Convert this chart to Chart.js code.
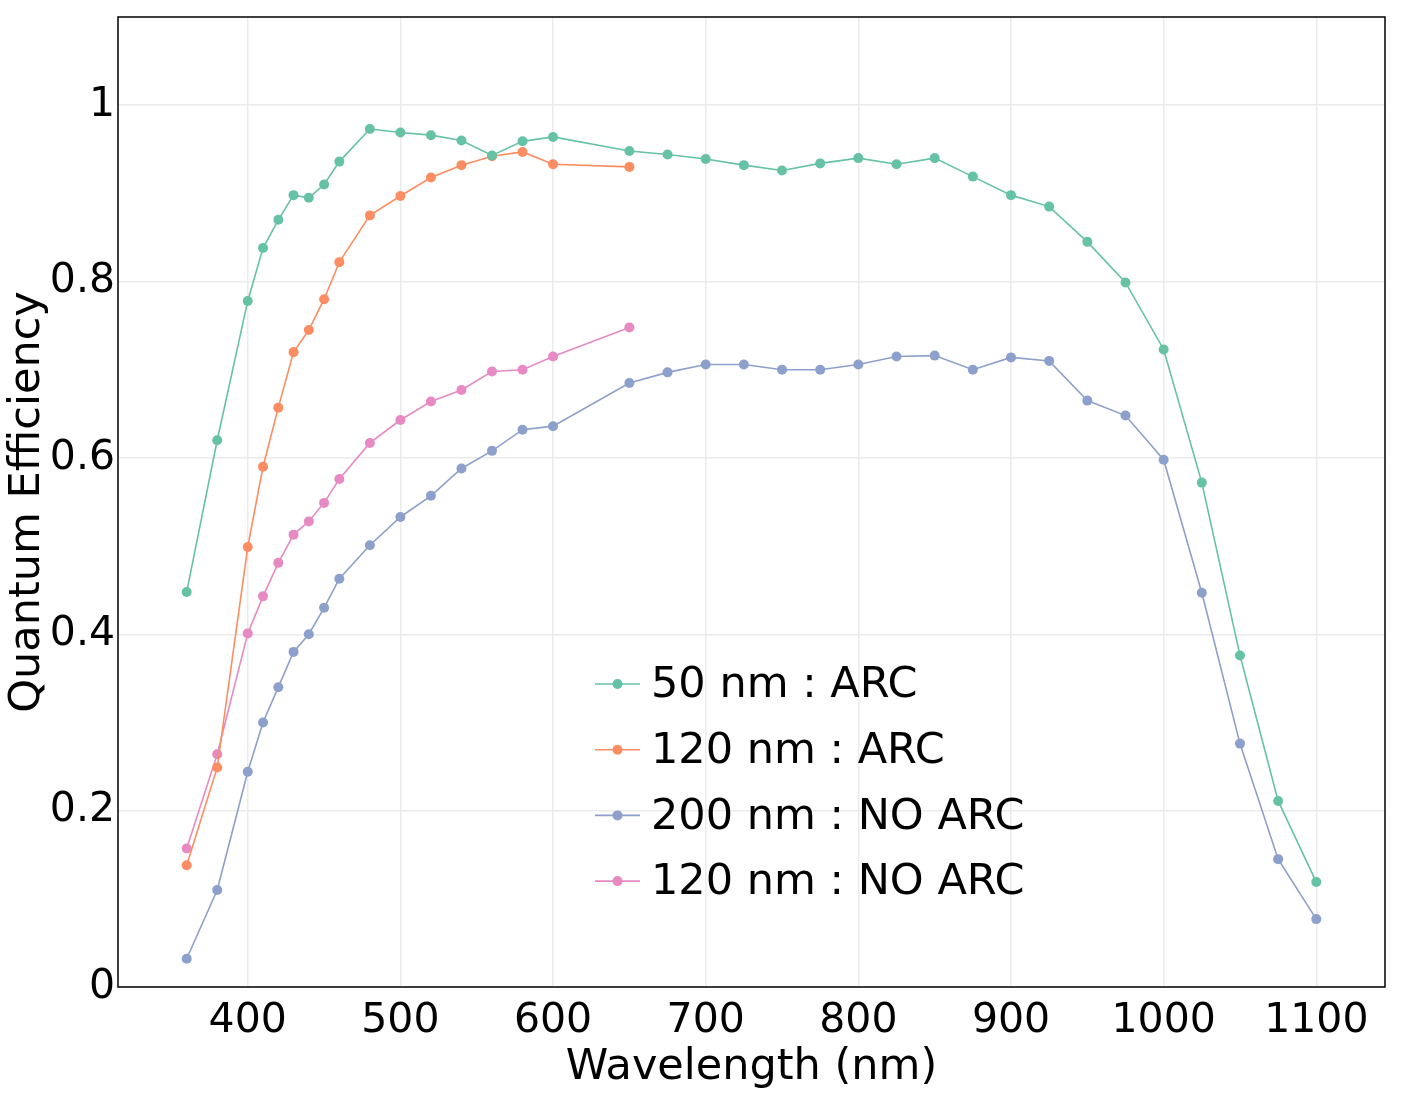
<!DOCTYPE html>
<html>
<head>
<meta charset="utf-8">
<script src="https://cdn.jsdelivr.net/npm/chart.js@4.4.1/dist/chart.umd.min.js"></script>
<style>
  html, body { margin: 0; padding: 0; background: #ffffff; }
  canvas { display: block; }
</style>
</head>
<body>
<canvas id="qeChart" width="1403" height="1102"></canvas>
<script>
// wavelengths (nm)
var wavelengthsLong = [360, 380, 400, 410, 420, 430, 440, 450, 460, 480, 500, 520, 540, 560, 580, 600,
  650, 675, 700, 725, 750, 775, 800, 825, 850, 875, 900, 925, 950, 975, 1000, 1025, 1050, 1075, 1100];
var wavelengthsShort = [360, 380, 400, 410, 420, 430, 440, 450, 460, 480, 500, 520, 540, 560, 580, 600, 650];

// quantum efficiency
var qe50Arc = [0.448, 0.620, 0.778, 0.838, 0.870, 0.898, 0.895, 0.910, 0.936, 0.973, 0.969, 0.966, 0.960, 0.943, 0.959, 0.964,
  0.948, 0.944, 0.939, 0.932, 0.926, 0.934, 0.940, 0.933, 0.940, 0.919, 0.898, 0.885, 0.845, 0.799, 0.723, 0.572, 0.376, 0.211, 0.119];
var qe120Arc = [0.138, 0.249, 0.499, 0.590, 0.657, 0.720, 0.745, 0.780, 0.822, 0.875, 0.897, 0.918, 0.932, 0.942, 0.947, 0.933, 0.930];
var qe200NoArc = [0.032, 0.110, 0.244, 0.300, 0.340, 0.380, 0.400, 0.430, 0.463, 0.501, 0.533, 0.557, 0.588, 0.608, 0.632, 0.636,
  0.685, 0.697, 0.706, 0.706, 0.700, 0.700, 0.706, 0.715, 0.716, 0.700, 0.714, 0.710, 0.665, 0.648, 0.598, 0.447, 0.276, 0.145, 0.077];
var qe120NoArc = [0.157, 0.264, 0.401, 0.443, 0.481, 0.513, 0.528, 0.549, 0.576, 0.617, 0.643, 0.664, 0.677, 0.698, 0.700, 0.715, 0.748];

var seriesNames = ["50 nm : ARC", "120 nm : ARC", "200 nm : NO ARC", "120 nm : NO ARC"];
var seriesColours = ["#66c2a5", "#fc8d62", "#8da0cb", "#e78ac3"];
var xTicks = [400, 500, 600, 700, 800, 900, 1000, 1100];
var yTicks = [0, 0.2, 0.4, 0.6, 0.8, 1];

var fontFamily = "'DejaVu Sans', Verdana, sans-serif";

function toPoints(xs, ys){
  var pts = [];
  for (var i = 0; i < ys.length; i++){
    pts.push({x: xs[i], y: ys[i]});
  }
  return pts;
}

function makeDataset(i, xs, ys){
  return {
    label: seriesNames[i],
    data: toPoints(xs, ys),
    borderColor: seriesColours[i],
    backgroundColor: seriesColours[i],
    borderWidth: 1.6,
    pointRadius: 5,
    pointBorderWidth: 0,
    pointHoverRadius: 5,
    tension: 0,
    fill: false
  };
}

// box round the plot area
var framePlugin = {
  id: "frame",
  afterDraw: function(chart){
    var a = chart.chartArea, ctx = chart.ctx;
    ctx.save();
    ctx.strokeStyle = "#000000";
    ctx.lineWidth = 1.5;
    ctx.strokeRect(a.left, a.top, a.right - a.left, a.bottom - a.top);
    ctx.restore();
  }
};

// legend drawn inside the plot
var insideLegend = {
  id: "insideLegend",
  afterDraw: function(chart){
    var a = chart.chartArea, ctx = chart.ctx;
    var x0 = a.left + 477, y0 = a.top + 667, rowGap = 65.7;
    ctx.save();
    ctx.font = "43px " + fontFamily;
    ctx.textBaseline = "middle";
    ctx.fillStyle = "#000000";
    chart.data.datasets.forEach(function(ds, i){
      var y = y0 + i * rowGap;
      ctx.strokeStyle = ds.borderColor;
      ctx.lineWidth = 1.6;
      ctx.beginPath();
      ctx.moveTo(x0, y);
      ctx.lineTo(x0 + 45, y);
      ctx.stroke();
      ctx.fillStyle = ds.backgroundColor;
      ctx.beginPath();
      ctx.arc(x0 + 22.5, y, 5, 0, Math.PI * 2);
      ctx.fill();
      ctx.fillStyle = "#000000";
      ctx.fillText(ds.label, x0 + 56, y + 2);
    });
    ctx.restore();
  }
};

var ctx = document.getElementById("qeChart").getContext("2d");
var qeChart = new Chart(ctx, {
  type: "line",
  data: {
    datasets: [
      makeDataset(0, wavelengthsLong, qe50Arc),
      makeDataset(1, wavelengthsShort, qe120Arc),
      makeDataset(2, wavelengthsLong, qe200NoArc),
      makeDataset(3, wavelengthsShort, qe120NoArc)
    ]
  },
  options: {
    responsive: false,
    animation: false,
    layout: { padding: { left: 0, right: 18, top: 17, bottom: 0 } },
    plugins: {
      legend: { display: false },
      tooltip: { enabled: false }
    },
    scales: {
      x: {
        type: "linear",
        min: 315,
        max: 1145,
        afterFit: function(scale){
          scale.height = 115;
          scale.paddingLeft = 0;
          scale.paddingRight = 0;
        },
        afterBuildTicks: function(scale){
          scale.ticks = xTicks.map(function(v){ return {value: v}; });
        },
        grid: { color: "#ebebeb", lineWidth: 1.5, drawTicks: false },
        border: { display: false },
        ticks: {
          color: "#000000",
          padding: 10,
          maxRotation: 0,
          font: { family: fontFamily, size: 41 },
          callback: function(v){ return String(v); }
        },
        title: {
          display: true,
          text: "Wavelength (nm)",
          color: "#000000",
          padding: { top: 0, bottom: 8 },
          font: { family: fontFamily, size: 43 }
        }
      },
      y: {
        min: 0,
        max: 1.1,
        afterFit: function(scale){
          scale.width = 118;
          scale.paddingTop = 0;
          scale.paddingBottom = 0;
        },
        afterBuildTicks: function(scale){
          scale.ticks = yTicks.map(function(v){ return {value: v}; });
        },
        grid: { color: "#ebebeb", lineWidth: 1.5, drawTicks: false },
        border: { display: false },
        ticks: {
          color: "#000000",
          padding: 3,
          font: { family: fontFamily, size: 41 },
          callback: function(v){
            if (v === 0 || v === 1) return String(v);
            return v.toFixed(1);
          }
        },
        title: {
          display: true,
          text: "Quantum Efficiency",
          color: "#000000",
          padding: { top: 2, bottom: 0 },
          font: { family: fontFamily, size: 43 }
        }
      }
    }
  },
  plugins: [framePlugin, insideLegend]
});
</script>
</body>
</html>
